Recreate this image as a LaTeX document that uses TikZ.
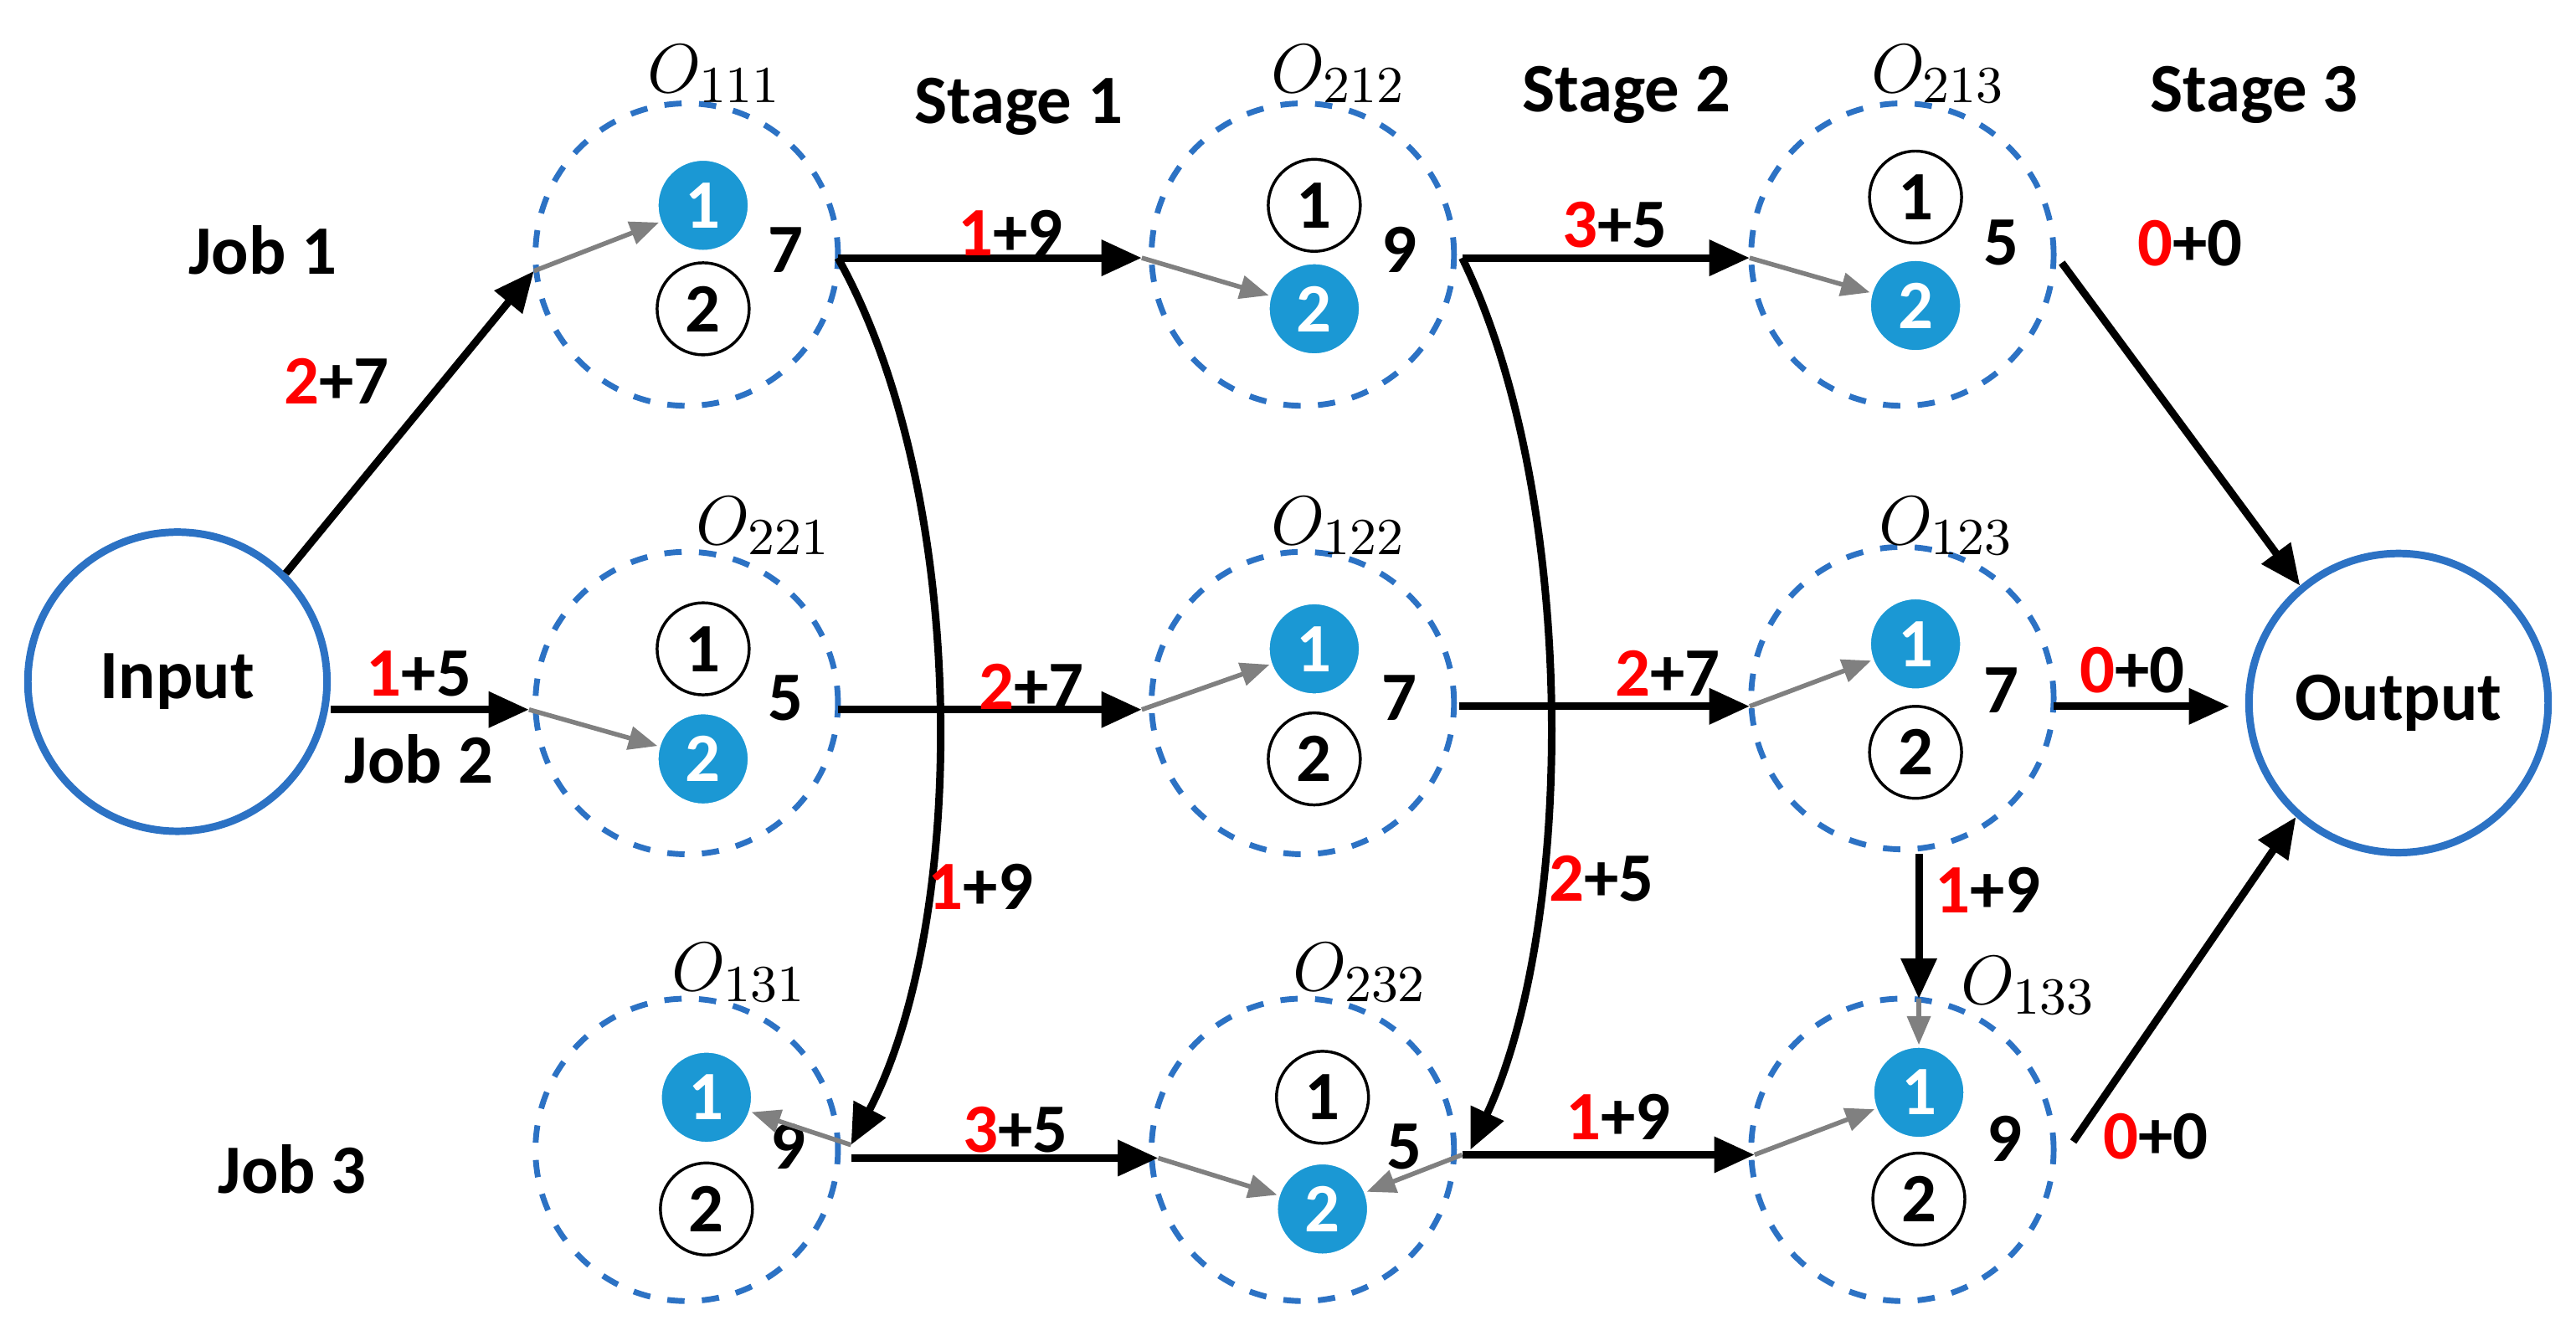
\documentclass[tikz,border=0pt]{standalone}
\usepackage{fontspec}
\setmainfont{Carlito}
\usetikzlibrary{arrows.meta}
\definecolor{ob}{RGB}{44,114,196}
\definecolor{fb}{RGB}{27,152,212}
\begin{document}
\begin{tikzpicture}[x=0.01cm,y=-0.01cm,
 big/.style={circle,draw=ob,line width=1.3pt,minimum size=1.82cm,inner sep=0pt,font=\fontsize{12}{14}\selectfont\bfseries},
 grp/.style={circle,draw=ob,dashed,line width=1pt,minimum size=1.84cm,inner sep=0pt},
 wn/.style={circle,draw=black,line width=0.5pt,fill=white,minimum size=0.56cm,inner sep=0pt,font=\fontsize{12}{14}\selectfont\bfseries},
 bn/.style={circle,draw=white,line width=0.5pt,fill=fb,text=white,minimum size=0.56cm,inner sep=0pt,font=\fontsize{12}{14}\selectfont\bfseries},
 tl/.style={font=\fontsize{12}{14}\selectfont\bfseries},
 ol/.style={font=\fontsize{13}{15}\selectfont},
 ar/.style={-{Triangle[length=7pt,width=6pt]},line width=1.3pt},
 ga/.style={-{Triangle[length=5pt,width=4pt]},draw=gray,line width=0.8pt}]
\useasboundingbox (0,0) rectangle (1568,816);
\newcommand{\lab}[4]{\node[tl] (#1) at (#2) {\textcolor{red}{#3}+#4};}
% big circles
\node[big] (in) at (108,415) {Input};
\node[big] (out) at (1460,428) {Output};
% groups
\foreach \n/\x/\y in {g111/418/155,g212/793/155,g213/1158/155,g221/418/428,g122/793/428,g123/1158/425,g131/418/700,g232/793/700,g133/1158/700}
  \node[grp] (\n) at (\x,\y) {};
% inner nodes
\node[bn] (a1) at (428,125) {1}; \node[wn] (a2) at (428,188) {2}; \node[tl] at (478,152) {7};
\node[wn] (b1) at (800,125) {1}; \node[bn] (b2) at (800,188) {2}; \node[tl] at (852,152) {9};
\node[wn] (c1) at (1166,120) {1}; \node[bn] (c2) at (1166,186) {2}; \node[tl] at (1218,148) {5};
\node[wn] (d1) at (428,395) {1}; \node[bn] (d2) at (428,462) {2}; \node[tl] at (478,425) {5};
\node[bn] (e1) at (800,395) {1}; \node[wn] (e2) at (800,462) {2}; \node[tl] at (852,425) {7};
\node[bn] (f1) at (1166,392) {1}; \node[wn] (f2) at (1166,458) {2}; \node[tl] at (1218,420) {7};
\node[bn] (h1) at (430,668) {1}; \node[wn] (h2) at (430,736) {2}; \node[tl] at (480,698) {9};
\node[wn] (i1) at (805,668) {1}; \node[bn] (i2) at (805,736) {2}; \node[tl] at (855,698) {5};
\node[bn] (j1) at (1168,665) {1}; \node[wn] (j2) at (1168,730) {2}; \node[tl] at (1220,693) {9};
% O labels
\node[ol] at (435,45) {$O_{111}$};
\node[ol] at (815,45) {$O_{212}$};
\node[ol] at (1180,45) {$O_{213}$};
\node[ol] at (465,320) {$O_{221}$};
\node[ol] at (815,320) {$O_{122}$};
\node[ol] at (1185,320) {$O_{123}$};
\node[ol] at (450,592) {$O_{131}$};
\node[ol] at (828,592) {$O_{232}$};
\node[ol] at (1235,600) {$O_{133}$};
% stage/job labels
\node[tl] at (620,65) {Stage 1};
\node[tl] at (990,58) {Stage 2};
\node[tl] at (1372,58) {Stage 3};
\node[tl] at (160,152) {Job 1};
\node[tl] at (255,462) {Job 2};
\node[tl] at (178,712) {Job 3};
% coordinates
\coordinate (p111) at (325,165); \coordinate (p221) at (322,432);
\coordinate (q111) at (510,157); \coordinate (p212) at (695,157);
\coordinate (p131) at (518,697); \coordinate (q221) at (510,432); \coordinate (p122) at (695,432);
\coordinate (q212) at (890,157); \coordinate (p213) at (1065,157);
\coordinate (p232b) at (895,700); \coordinate (q122) at (888,430); \coordinate (p123) at (1065,430);
\coordinate (q131) at (518,705); \coordinate (p232) at (705,705);
\coordinate (q232) at (890,703); \coordinate (p133) at (1068,703);
\coordinate (q213) at (1255,160); \coordinate (q123) at (1250,430); \coordinate (o2) at (1357,430);
\coordinate (b123) at (1168,520); \coordinate (t133) at (1168,608); \coordinate (q133) at (1262,695);
% black arrows
\draw[ar] (in.45) -- (p111);
\draw[ar] (in.east|-p221) -- (p221);
\draw[ar] (q111) -- (p212);
\draw[ar] (q111) .. controls (590,300) and (590,560) .. (p131);
\draw[ar] (q221) -- (p122);
\draw[ar] (q212) -- (p213);
\draw[ar] (q212) .. controls (960,300) and (960,560) .. (p232b);
\draw[ar] (q122) -- (p123);
\draw[ar] (q131) -- (p232);
\draw[ar] (q232) -- (p133);
\draw[ar] (q213) -- (out.130);
\draw[ar] (q123) -- (o2);
\draw[ar] (b123) -- (t133);
\draw[ar] (q133) -- (out.228);
% labels
\lab{l1}{205,232}{2}{7}
\lab{l2}{255,410}{1}{5}
\lab{l3}{615,142}{1}{9}
\lab{l4}{597,540}{1}{9}
\lab{l5}{628,418}{2}{7}
\lab{l6}{983,137}{3}{5}
\lab{l7}{975,535}{2}{5}
\lab{l8}{1015,410}{2}{7}
\lab{l9}{618,688}{3}{5}
\lab{l10}{985,680}{1}{9}
\lab{l11}{1333,148}{0}{0}
\lab{l12}{1298,408}{0}{0}
\lab{l13}{1210,542}{1}{9}
\lab{l14}{1312,692}{0}{0}
% gray arrows
\draw[ga] (p111) -- (a1);
\draw[ga] (p212) -- (b2);
\draw[ga] (p213) -- (c2);
\draw[ga] (p221) -- (d2);
\draw[ga] (p122) -- (e1);
\draw[ga] (p123) -- (f1);
\draw[ga] (p131) -- (h1);
\draw[ga] (p232) -- (i2);
\draw[ga] (q232) -- (i2);
\draw[ga] (p133) -- (j1);
\draw[ga] (t133) -- (j1);
\end{tikzpicture}
\end{document}
